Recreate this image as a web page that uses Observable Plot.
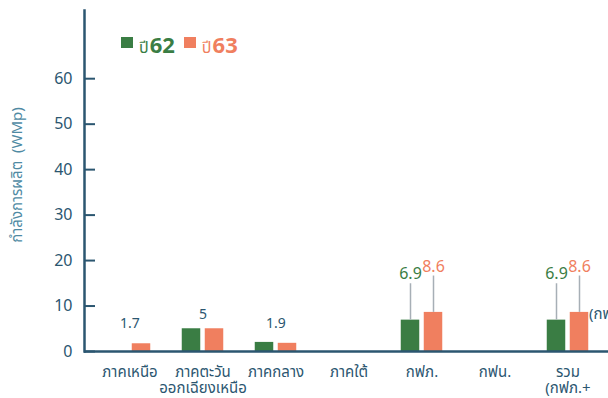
<!DOCTYPE html>
<html><head><meta charset="utf-8">
<script src="https://cdn.jsdelivr.net/npm/d3@7"></script>
<script src="https://cdn.jsdelivr.net/npm/@observablehq/plot@0.6"></script>
<style>
html,body{margin:0;padding:0;overflow:hidden;background:#fff;}
#wrap{position:relative;width:608px;height:398px;overflow:hidden;font-family:"Noto Sans","Noto Sans Thai",Lato,sans-serif;}
#legend{position:absolute;left:121px;top:29px;white-space:nowrap;height:34px;display:flex;align-items:baseline;}
.sw{display:inline-block;width:12px;height:11px;margin-right:6px;position:relative;top:-5px;}
.py{font-size:16px;}
.yr{font-size:22px;font-weight:bold;margin-left:1px;margin-right:9px;}
#chart{position:absolute;left:0;top:0;}
#chart svg{max-width:none !important;}
#ylab{position:absolute;left:17px;top:175px;transform:translate(-50%,-50%) rotate(-90deg);white-space:pre;font-size:15px;color:#4f8aa3;}
</style></head><body>
<div id="wrap"><div id="chart"></div><div id="legend"></div><div id="ylab"></div></div>
<script>
const categories = ["ภาคเหนือ","ภาคตะวันออกเฉียงเหนือ","ภาคกลาง","ภาคใต้","กฟภ.","กฟน.","รวม (กฟภ.+กฟน.)"];
const tickLabels = ["ภาคเหนือ","ภาคตะวัน\nออกเฉียงเหนือ","ภาคกลาง","ภาคใต้","กฟภ.","กฟน.","รวม\n(กฟภ.+"];
const years = ["ปี62","ปี63"];
const yearNums = ["62","63"];
const colors = ["#3a7d44","#f07f5f"];
const values62 = [0, 5, 2.0, 0, 6.9, 0, 6.9];
const values63 = [1.7, 5, 1.8, 0, 8.6, 0, 8.6];
const groupLabels = ["1.7","5","1.9","","","",""];
const calloutCats = ["กฟภ.","รวม (กฟภ.+กฟน.)"];
const yTicks = [0,10,20,30,40,50,60];
const yLabel = "กำลังการผลิต  (WMp)";
const sideNote = "(กฟภ.+กฟน.)";

const axisColor = "#2b5670";
const W = 613, ML = 84;

const rows = [];
categories.forEach((c,i)=>{
  rows.push({cat:c, year:years[0], value:values62[i]});
  rows.push({cat:c, year:years[1], value:values63[i]});
});
const green = rows.filter(d=>d.year===years[0]);
const orange = rows.filter(d=>d.year===years[1]);
const groupRows = categories.map((c,i)=>({cat:c, label:groupLabels[i], value:Math.max(values62[i],values63[i])})).filter(d=>d.label);
const callG = green.filter(d=>calloutCats.includes(d.cat));
const callO = orange.filter(d=>calloutCats.includes(d.cat));
const lift = 8;

const font = '"Noto Sans","Noto Sans Thai",Lato,sans-serif';
const chart = Plot.plot({
  width: W, height: 398,
  marginLeft: ML, marginRight: 0, marginTop: 10, marginBottom: 47,
  style: {fontFamily: font, background: "transparent", overflow: "visible", maxWidth: "none"},
  x: {domain: categories, paddingInner: 0, paddingOuter: 0.099, label: null},
  y: {domain: [0, 75], label: null},
  marks: [
    Plot.barY(green, {x:"cat", y:"value", fill: colors[0], insetLeft: 15.75, insetRight: 38.75}),
    Plot.barY(orange, {x:"cat", y:"value", fill: colors[1], insetLeft: 38.75, insetRight: 15.75}),
    Plot.ruleX(callG, {x:"cat", y1:"value", y2: d=>d.value+lift, dx:-11.5, stroke:"#a7afb6", strokeWidth:1.5}),
    Plot.ruleX(callO, {x:"cat", y1:"value", y2: d=>d.value+lift, dx:11.5, stroke:"#a7afb6", strokeWidth:1.5}),
    Plot.text(callG, {x:"cat", y: d=>d.value+lift, text: d=>String(d.value), dx:-11.5, dy:-5, lineAnchor:"bottom", fill: colors[0], fontSize:16}),
    Plot.text(callO, {x:"cat", y: d=>d.value+lift, text: d=>String(d.value), dx:11.5, dy:-4, lineAnchor:"bottom", fill: colors[1], fontSize:16}),
    Plot.text(groupRows, {x:"cat", y: d=>Math.max(d.value, 3), text:"label", dy:-10, lineAnchor:"bottom", fill: axisColor, fontSize:14}),
    Plot.text([sideNote], {x: () => categories[categories.length-1], y: () => values63[values63.length-1], text: d=>d, dx: 21, dy: 2, textAnchor:"start", fill: axisColor, fontSize:15}),
    Plot.ruleY(yTicks, {stroke: axisColor, strokeWidth: 2, insetRight: W - ML - 11}),
    Plot.axisY(yTicks, {tickSize: 0, tickPadding: 12, fontSize: 16, color: axisColor, label: null}),
    Plot.axisX({tickSize: 0, tickPadding: 14, fontSize: 15, lineHeight: 1.08, color: axisColor, tickFormat: (d)=>tickLabels[categories.indexOf(d)], lineAnchor:"top", label: null}),
    Plot.ruleY([0], {stroke: axisColor, strokeWidth: 2.5}),
    Plot.frame({anchor: "left", stroke: axisColor, strokeWidth: 2.5})
  ]
});
document.getElementById("chart").appendChild(chart);
document.getElementById("ylab").textContent = yLabel;

const lg = document.getElementById("legend");
years.forEach((y,i)=>{
  const sw = document.createElement("span"); sw.className="sw"; sw.style.background=colors[i]; lg.appendChild(sw);
  const p = document.createElement("span"); p.className="py"; p.style.color=colors[i]; p.textContent = y.replace(yearNums[i],""); lg.appendChild(p);
  const n = document.createElement("span"); n.className="yr"; n.style.color=colors[i]; n.textContent = yearNums[i]; lg.appendChild(n);
});
</script>
</body></html>
